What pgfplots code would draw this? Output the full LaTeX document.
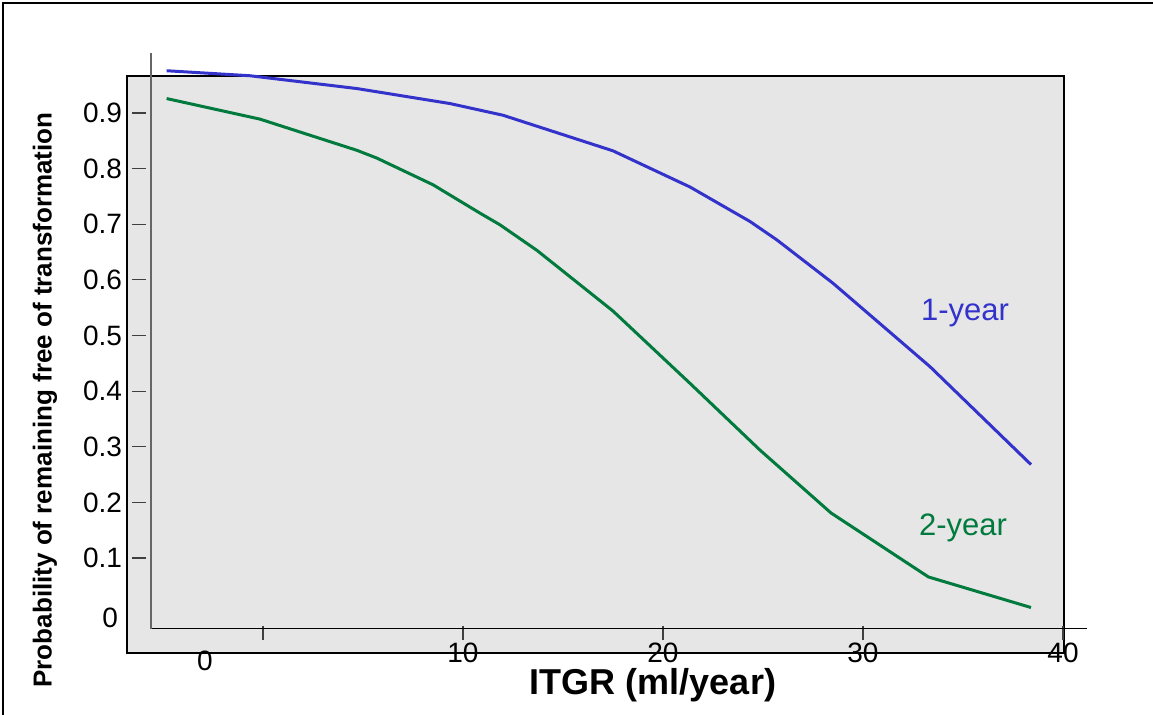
\documentclass[border=0pt]{standalone}
\usepackage{pgfplots}
\pgfplotsset{compat=1.18}
\usepackage{fontspec}
\setmainfont{Liberation Sans}
\definecolor{oneyr}{RGB}{51,51,204}
\definecolor{twoyr}{RGB}{0,122,61}
\definecolor{panel}{RGB}{230,230,230}
\begin{document}
\begin{tikzpicture}
% page and gray panel (1 px of the reference = 0.5pt)
\path[use as bounding box] (0pt,0pt) rectangle (576.5pt,-357.5pt);
\fill[panel] (63.5pt,-38pt) rectangle (532pt,-326.5pt);
\draw[line width=1pt] (63.5pt,-38pt) rectangle (532pt,-326.5pt);
\draw[line width=1pt] (1.5pt,-357.5pt) -- (1.5pt,-1.5pt) -- (576.5pt,-1.5pt);

\begin{axis}[
    at={(75.5pt,-314.5pt)}, anchor=south west,
    scale only axis, width=468pt, height=288pt,
    xmin=-5.6, xmax=41.2, ymin=-0.0276, ymax=1.0079,
    axis lines=left, axis line style={-},
    x axis line style={black, line width=0.5pt},
    y axis line style={black!60, line width=0.6pt},
    xtick={0,10,20,30,40}, xticklabels={,10,20,30,40},
    ytick={0.1,0.2,0.3,0.4,0.5,0.6,0.7,0.8,0.9},
    yticklabels={0.1,0.2,0.3,0.4,0.5,0.6,0.7,0.8,0.9},
    major tick length=7pt, tick align=center,
    every x tick/.append style={black!75, line width=0.6pt, yshift=-2pt},
    every y tick/.append style={black!75, line width=0.6pt, xshift=-6pt},
    tick label style={font=\fontsize{14}{16}\selectfont},
    xticklabel style={yshift=0pt},
    yticklabel style={xshift=-7.5pt},
    /pgf/number format/assume math mode=true,
    clip=false,
]
\addplot[oneyr, line width=1.5pt, line join=round] coordinates {
    (-4.82,0.976) (-0.65,0.967) (4.69,0.944) (9.35,0.917) (12.0,0.896)
    (17.5,0.832) (21.35,0.767) (24.35,0.705) (25.69,0.672) (28.5,0.594)
    (33.35,0.444) (38.4,0.268)
};
\addplot[twoyr, line width=1.5pt, line join=round] coordinates {
    (-4.82,0.926) (-0.15,0.889) (4.69,0.833) (5.69,0.819) (8.5,0.771)
    (10.85,0.720) (11.85,0.699) (13.7,0.653) (17.5,0.544) (21.35,0.414)
    (24.85,0.294) (28.4,0.181) (33.27,0.066) (38.4,0.011)
};
\end{axis}

\node[font=\fontsize{14}{16}\selectfont, anchor=east] at (62.5pt,-309pt) {0};
\node[font=\fontsize{14}{16}\selectfont] at (102.5pt,-330.5pt) {0};
\node[font=\fontsize{15.5}{18}\selectfont, text=oneyr] at (482.5pt,-156.5pt) {1-year};
\node[font=\fontsize{15.5}{18}\selectfont, text=twoyr] at (481.5pt,-264pt) {2-year};
\node[font=\bfseries\fontsize{18}{21}\selectfont] at (326.5pt,-342.5pt) {ITGR (ml/year)};
\node[font=\bfseries\fontsize{13}{15}\selectfont, rotate=90] at (22.5pt,-200pt) {Probability of remaining free of transformation};
\end{tikzpicture}
\end{document}
